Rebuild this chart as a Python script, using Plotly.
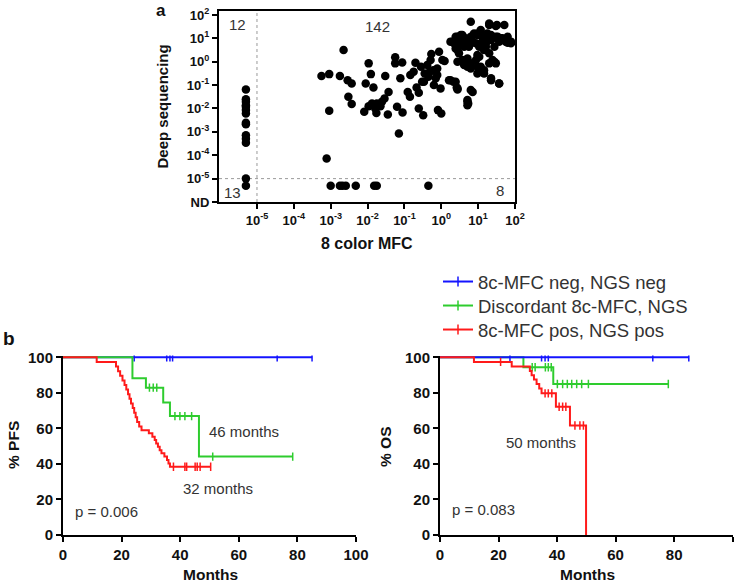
import plotly.graph_objects as go

W, H = 745, 583
FONT = "Liberation Sans, Arial, sans-serif"

def px(x):
    return x / W

def py(y):
    return 1 - y / H

# ---------------- Panel a: scatter (log10 exponents; ND plotted at 10^-5.3) ----------------
mfc_exp = [
    # MFC ND (left column)
    -5.3, -5.3, -5.3, -5.3, -5.3, -5.3, -5.3, -5.3, -5.3, -5.3, -5.3, -5.3, -5.3, -5.3,
    # NGS ND (bottom row)
    -3.0, -2.75, -2.68, -2.59, -2.32, -1.82, -1.75, -0.35,
    # both positive
    -3.25, -3.04, -2.75, -2.65, -2.54, -2.43, -2.52, -2.43, -3.04, -3.11,
    -1.97, -2.05, -1.91, -1.84, -2.09, -1.97, -1.88, -1.79, -1.75, -1.61, -1.54, -1.76, -1.65,
    -1.52, -1.43, -1.45, -1.25, -1.25, -1.06, -1.11, -1.20, -1.05, -1.15, -0.84, -0.91, -0.85,
    -0.70, -0.75, -0.67, -0.61, -0.61, -0.49, -0.55, -0.45, -0.47, -0.38, -0.35, -0.29, -0.27,
    -0.31, -0.22, -0.15, -0.20, -0.11, -0.06, 0.09, -0.02, -0.09, 0.00, -0.52, -0.11, 0.03,
    0.25, 0.21, 0.33, 0.42, 0.44, 0.39, 0.51, 0.57, 0.62, 0.44, 0.71, 0.71, 0.66, 0.71, 0.73,
    0.85, 0.80, 0.85, 0.87, 0.98, 1.03, 1.03, 1.12, 1.16, 1.16, 1.21, 1.30, 1.35, 1.30, 1.35,
    1.44, 1.51, 1.53, 1.57, 1.57, 1.25, 1.07, 0.94, 0.75, 0.53, 0.35, 0.48, 0.62, 0.80, 0.94,
    1.07, 0.98, 1.12, 1.44, 1.66, 1.75, 1.89, 1.80,
    0.30, 0.44, 0.53, 0.66, 0.80, 0.89, 0.98, 1.12, 1.25, 1.35, 1.48, 1.62, 1.71, 1.80, 1.07,
    1.21, 1.30, 1.39, 1.48, 0.98, 0.80, 0.71, 0.57, 0.44, 0.39, 0.25, 0.39, 0.44, 0.80, 0.71,
    0.71, 0.98, 1.16, 1.35, 1.57, 1.48, 1.30, 1.71, 1.89,
]
seq_exp = [
    -1.19, -1.60, -1.71, -1.86, -1.93, -2.07, -2.21, -2.61, -2.67, -3.14, -3.29, -3.47, -5.0, -5.3,
    -5.3, -5.3, -5.3, -5.3, -5.3, -5.3, -5.3, -5.3,
    -0.61, -0.53, -0.61, 0.50, -0.79, -0.93, -1.50, -1.81, -2.10, -4.14,
    -0.07, -0.93, -0.53, -1.10, -2.14, -1.90, -1.79, -2.00, -1.79, -1.71, -1.57, -2.19, -1.90,
    -0.61, -1.29, -2.26, 0.19, -0.07, -0.03, -0.71, -1.93, -2.17, -3.07, -0.57, -1.29, -1.50,
    -0.04, -0.43, -1.10, -1.33, -2.00, -2.29, -0.21, -0.50, -0.86, -0.14, -0.64, 0.07, 0.33,
    -0.43, -0.36, -0.71, -1.00, -0.29, 0.43, 0.03, -1.14, -2.07, -2.21, -0.86, -0.57, 0.07,
    0.86, -0.79, -0.86, -1.10, -1.19, 1.07, 1.00, 1.14, 0.64, 0.50, 0.86, 0.14, 0.00, -1.64, -1.79,
    -1.29, 1.71, 0.86, 1.14, 1.21, 0.64, 0.21, 1.07, 0.50, -0.36, 0.79, 1.64, 0.93, -0.07, -0.79,
    0.00, 1.57, 1.07, 0.86, -0.93, 1.21, 1.36, 0.79, 0.64, 0.79, 0.79, 0.36, -0.14, -0.29, 0.07,
    -0.21, -0.50, 0.86, 0.64, 1.00, 0.86, 0.79, 1.07,
    0.86, 1.07, 1.14, 1.00, 1.07, 1.21, 1.14, 1.07, 1.00, 1.14, 1.07, 1.00, 0.93, 0.81, 0.79,
    0.64, 0.36, 0.07, -0.07, 0.29, -0.07, -0.21, 0.07, 0.00, 0.57, -0.79, -0.86, -1.14, -1.21, -1.71,
    -1.86, -0.21, -0.50, -0.71, -0.93, 1.53, 1.57, 1.57, 0.86,
]
x_tick_exp = [-5, -4, -3, -2, -1, 0, 1, 2]
y_tick_exp = [-6, -5, -4, -3, -2, -1, 0, 1, 2]
y_tick_text = ["ND"] + ["10<sup>%d</sup>" % e for e in y_tick_exp[1:]]
x_tick_text = ["10<sup>%d</sup>" % e for e in x_tick_exp]
cutoff = 1e-5
quadrant_counts = ["12", "142", "13", "8"]

# ---------------- Panel b: Kaplan-Meier curves ----------------
names = ["8c-MFC neg, NGS neg", "Discordant 8c-MFC, NGS", "8c-MFC pos, NGS pos"]
colors = ["#1414ff", "#2ecc2e", "#ff1a1a"]

pfs_neg_t = [0, 85]
pfs_neg_s = [100, 100]
pfs_neg_cens = [24.3, 35.4, 36.5, 37.4, 73.1, 85]
pfs_disc_t = [0, 23.7, 28.3, 34.2, 36.5, 46.4, 78.4]
pfs_disc_s = [100, 88.2, 82.9, 74.5, 66.9, 44.1, 44.1]
pfs_disc_cens = [29.5, 30.8, 32.0, 38.2, 39.9, 41.6, 43.9, 51.1, 78.4]
pfs_pos_t = [0, 11.5, 18.1, 18.8, 19.5, 20.3, 21.0, 21.6, 22.2, 22.7, 23.2, 23.8, 24.3, 24.8,
             25.3, 26.0, 26.8, 29.3, 30.5, 31.3, 31.8, 32.4, 33.0, 33.6, 34.6, 35.5, 36.0, 36.5, 50.4]
pfs_pos_s = [100, 97.4, 94.8, 92.2, 89.6, 87.0, 84.4, 81.8, 79.2, 76.6, 74.0, 71.4, 68.8, 66.2,
             63.6, 61.0, 59.0, 57.2, 55.3, 53.4, 51.5, 49.6, 47.7, 46.0, 44.2, 42.2, 40.3, 38.4, 38.4]
pfs_pos_cens = [37.7, 41.6, 42.2, 45.1, 45.8, 46.8, 50.4]

os_neg_t = [0, 85]
os_neg_s = [100, 100]
os_neg_cens = [23.9, 34.7, 35.9, 37.0, 72.7, 85]
os_disc_t = [0, 28.5, 38.7, 78.0]
os_disc_s = [100, 94.4, 85.0, 85.0]
os_disc_cens = [31.5, 32.5, 36.0, 37.0, 38.0, 40.1, 41.9, 43.5, 45.0, 46.7, 48.4, 50.7, 78.0]
os_pos_t = [0, 11.6, 24.5, 30.7, 31.3, 32.1, 33.0, 33.9, 34.7, 39.6, 44.4, 49.9]
os_pos_s = [100, 97.4, 94.8, 92.3, 89.9, 87.5, 85.0, 82.4, 79.7, 72.2, 61.6, 0]
os_pos_cens = [20.7, 35.9, 37.0, 38.2, 40.7, 41.9, 43.0, 46.1, 47.8, 49.0]

km_ticks = [0, 20, 40, 60, 80, 100]


def step_value(ts, ss, t):
    v = ss[0]
    for ti, si in zip(ts, ss):
        if ti <= t:
            v = si
    return v


fig = go.Figure()

# scatter
fig.add_trace(go.Scatter(x=[cutoff, cutoff], y=[1e-6, 10 ** 2.17], mode="lines",
                         line=dict(color="#9a9a9a", width=1, dash="dot"),
                         xaxis="x", yaxis="y", showlegend=False, hoverinfo="skip"))
fig.add_trace(go.Scatter(x=[10 ** -6.03, 100], y=[cutoff, cutoff], mode="lines",
                         line=dict(color="#9a9a9a", width=1, dash="dot"),
                         xaxis="x", yaxis="y", showlegend=False, hoverinfo="skip"))
fig.add_trace(go.Scatter(x=[10 ** v for v in mfc_exp], y=[10 ** v for v in seq_exp],
                         mode="markers", marker=dict(color="black", size=8.5),
                         xaxis="x", yaxis="y", showlegend=False))


def add_curve(t, s, cens, color, xa, ya):
    fig.add_trace(go.Scatter(x=t, y=s, mode="lines", line=dict(color=color, width=2, shape="hv"),
                             xaxis=xa, yaxis=ya, showlegend=False))
    fig.add_trace(go.Scatter(x=cens, y=[step_value(t, s, c) for c in cens], mode="markers",
                             marker=dict(symbol="line-ns-open", size=6, color=color,
                                         line=dict(color=color, width=1.5)),
                             xaxis=xa, yaxis=ya, showlegend=False))


# PFS: blue, green, red
add_curve(pfs_neg_t, pfs_neg_s, pfs_neg_cens, colors[0], "x2", "y2")
add_curve(pfs_disc_t, pfs_disc_s, pfs_disc_cens, colors[1], "x2", "y2")
add_curve(pfs_pos_t, pfs_pos_s, pfs_pos_cens, colors[2], "x2", "y2")
# OS: green, blue, red
add_curve(os_disc_t, os_disc_s, os_disc_cens, colors[1], "x3", "y3")
add_curve(os_neg_t, os_neg_s, os_neg_cens, colors[0], "x3", "y3")
add_curve(os_pos_t, os_pos_s, os_pos_cens, colors[2], "x3", "y3")

legend_ids = ["legend", "legend2", "legend3"]
legend_rows = [282, 306, 330]
for n, c, lid in zip(names, colors, legend_ids):
    fig.add_trace(go.Scatter(x=[None], y=[None], mode="lines+markers", name=n, legend=lid,
                             line=dict(color=c, width=2),
                             marker=dict(symbol="line-ns-open", size=7, color=c,
                                         line=dict(color=c, width=1.5)),
                             xaxis="x3", yaxis="y3"))

tick_bold13 = dict(family=FONT, size=13, color="#111", weight="bold")
tick_bold15 = dict(family=FONT, size=15, color="#111", weight="bold")
axis_common = dict(showline=True, linewidth=2, linecolor="black", ticks="outside", ticklen=5,
                   tickwidth=1.5, tickcolor="black", showgrid=False, zeroline=False,
                   automargin=False, tickfont=tick_bold13)

legend_style = dict(xanchor="left", yanchor="middle", bgcolor="rgba(0,0,0,0)",
                    font=dict(family=FONT, size=18.5, color="#333"), itemwidth=30)

fig.update_layout(
    width=W, height=H, autosize=False,
    margin=dict(l=0, r=0, t=0, b=0, pad=0, autoexpand=False),
    paper_bgcolor="white", plot_bgcolor="white",
    font=dict(family=FONT, color="#222"),
    xaxis=dict(axis_common, type="log", range=[-6.03, 2], domain=[px(219), px(515)], anchor="y",
               mirror=True, tickvals=[10 ** e for e in x_tick_exp], ticktext=x_tick_text),
    yaxis=dict(axis_common, type="log", range=[-6, 2.17], domain=[py(202), py(11)], anchor="x",
               mirror=True, tickvals=[10 ** e for e in y_tick_exp], ticktext=y_tick_text),
    xaxis2=dict(axis_common, range=[0, 100], domain=[px(63), px(356)], anchor="y2",
                tickvals=km_ticks, tickfont=tick_bold15),
    yaxis2=dict(axis_common, range=[0, 101], domain=[py(535), py(355.5)], anchor="x2",
                tickvals=km_ticks, tickfont=tick_bold15),
    xaxis3=dict(axis_common, range=[0, 100], domain=[px(440), px(732.7)], anchor="y3",
                tickvals=km_ticks, tickfont=tick_bold15),
    yaxis3=dict(axis_common, range=[0, 101], domain=[py(535), py(355.5)], anchor="x3",
                tickvals=km_ticks, tickfont=tick_bold15),
    legend=dict(legend_style, x=px(438), y=py(legend_rows[0])),
    legend2=dict(legend_style, x=px(438), y=py(legend_rows[1])),
    legend3=dict(legend_style, x=px(438), y=py(legend_rows[2])),
)

ann = []
def text(x, y, s, size=15, bold=False, xref="paper", yref="paper", angle=0, color="#222"):
    ann.append(dict(x=x, y=y, xref=xref, yref=yref, text=s, showarrow=False, textangle=angle,
                    font=dict(family=FONT, size=size, color=color, weight="bold" if bold else "normal"),
                    xanchor="center", yanchor="middle"))

text(px(161), py(11), "a", size=17, bold=True, color="#111")
text(px(9), py(338), "b", size=19, bold=True, color="#111")
text(px(162), py(106.5), "Deep sequencing", size=15, bold=True, angle=-90, color="#111")
text(px(367), py(243), "8 color MFC", size=16, bold=True, color="#111")
text(px(210), py(574), "Months", size=15.5, bold=True, color="#111")
text(px(587), py(574), "Months", size=15.5, bold=True, color="#111")
text(px(13), py(445), "% PFS", size=15.5, bold=True, angle=-90, color="#111")
text(px(385), py(447), "% OS", size=15.5, bold=True, angle=-90, color="#111")
# quadrant counts
for s, xd, yd in zip(quadrant_counts, [0.061, 0.537, 0.044, 0.949], [0.927, 0.921, 0.052, 0.058]):
    text(xd, yd, s, size=15, xref="x domain", yref="y domain", color="#333")
# KM annotations (data coords)
text(61.8, 58, "46 months", size=15, xref="x2", yref="y2", color="#333")
text(52.9, 25.9, "32 months", size=15, xref="x2", yref="y2", color="#333")
text(15.0, 13.5, "p = 0.006", size=15, xref="x2", yref="y2", color="#333")
text(34.5, 51.8, "50 months", size=15, xref="x3", yref="y3", color="#333")
text(15.0, 14.1, "p = 0.083", size=15, xref="x3", yref="y3", color="#333")
fig.update_layout(annotations=ann)

fig.write_html("out.html", config={"displayModeBar": False},
               post_script="document.body.style.margin='0';document.body.style.overflow='hidden';")
